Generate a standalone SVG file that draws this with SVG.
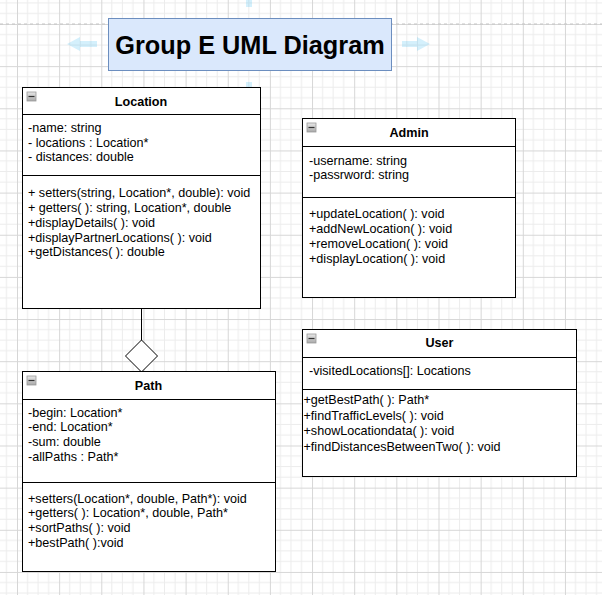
<svg xmlns="http://www.w3.org/2000/svg" width="602" height="595" viewBox="0 0 602 595">
<defs>
<pattern id="grid" patternUnits="userSpaceOnUse" x="17" y="24" width="42.15" height="42.15">
<path d="M10.54 0V42.15M21.08 0V42.15M31.61 0V42.15M0 10.54H42.15M0 21.08H42.15M0 31.61H42.15" stroke="#ececec" stroke-width="1" fill="none"/>
<path d="M0.5 0V42.15M0 0.5H42.15" stroke="#d6d6d6" stroke-width="1" fill="none"/>
</pattern>
<linearGradient id="icon" x1="0" y1="0" x2="0" y2="1">
<stop offset="0" stop-color="#e8e8e8"/>
<stop offset="1" stop-color="#a8a8a8"/>
</linearGradient>
<g id="minus">
<rect x="0" y="0" width="9" height="9" fill="url(#icon)" stroke="#9a9a9a" stroke-width="0.8"/>
<line x1="1.5" y1="4.5" x2="7.5" y2="4.5" stroke="#333" stroke-width="1.2"/>
</g>
</defs>
<style>
.box{fill:#ffffff;stroke:#000000;stroke-width:1}
.sep{stroke:#000000;stroke-width:1}
.t{font-family:"Liberation Sans",Arial,sans-serif;font-size:12.6px;fill:#000000}
.h{font-family:"Liberation Sans",Arial,sans-serif;font-size:12.6px;font-weight:bold;fill:#000000;text-anchor:middle}
.hint{fill:#29b6f2;opacity:0.2}
</style>
<rect x="0" y="0" width="602" height="595" fill="#ffffff"/>
<rect x="0" y="0" width="602" height="595" fill="url(#grid)"/>
<line x1="0" y1="24" x2="602" y2="24" stroke="#c4c4c4" stroke-width="1" stroke-dasharray="3 3"/>

<g id="hints">
<path class="hint" d="M67 44L80 37V41H97V47H80V51Z"/>
<path class="hint" d="M430 44L417 37V41H402V47H417V51Z"/>
<path class="hint" d="M249 109L242 96H246V82H252V96H256Z"/>
<rect class="hint" x="246" y="0" width="6" height="7"/>
</g>

<g id="title">
<rect x="108.5" y="18.5" width="283" height="52" fill="#dae8fc" stroke="#6c8ebf" stroke-width="1"/>
<text x="250" y="54" font-family="Liberation Sans,Arial,sans-serif" font-size="25.3" font-weight="bold" text-anchor="middle" fill="#000">Group E UML Diagram</text>
</g>

<g id="connectors">
<line x1="141.5" y1="308" x2="141.5" y2="340" stroke="#000" stroke-width="1"/>
<path d="M141.5 340L157.5 356L141.5 372L125.5 356Z" fill="#ffffff" stroke="#000" stroke-width="1"/>
</g>

<g id="Location">
<rect class="box" x="22.5" y="87.5" width="238" height="221"/>
<line class="sep" x1="22.5" y1="114.5" x2="260.5" y2="114.5"/>
<line class="sep" x1="22.5" y1="175.5" x2="260.5" y2="175.5"/>
<use href="#minus" x="27" y="92"/>
<text class="h" x="141" y="106">Location</text>
<text class="t" x="28" y="132">-name: string</text>
<text class="t" x="28" y="147">- locations : Location*</text>
<text class="t" x="28" y="161">- distances: double</text>
<text class="t" x="28" y="197">+ setters(string, Location*, double): void</text>
<text class="t" x="28" y="212">+ getters( ): string, Location*, double</text>
<text class="t" x="28" y="227">+displayDetails( ): void</text>
<text class="t" x="28" y="242">+displayPartnerLocations( ): void</text>
<text class="t" x="28" y="256">+getDistances( ): double</text>
</g>

<g id="Path">
<rect class="box" x="22.5" y="371.5" width="253" height="200"/>
<line class="sep" x1="22.5" y1="399.5" x2="275.5" y2="399.5"/>
<line class="sep" x1="22.5" y1="482.5" x2="275.5" y2="482.5"/>
<use href="#minus" x="27" y="376"/>
<text class="h" x="148.5" y="390">Path</text>
<text class="t" x="28" y="417">-begin: Location*</text>
<text class="t" x="28" y="431">-end: Location*</text>
<text class="t" x="28" y="446">-sum: double</text>
<text class="t" x="28" y="461">-allPaths : Path*</text>
<text class="t" x="28" y="503">+setters(Location*, double, Path*): void</text>
<text class="t" x="28" y="517">+getters( ): Location*, double, Path*</text>
<text class="t" x="28" y="532">+sortPaths( ): void</text>
<text class="t" x="28" y="547">+bestPath( ):void</text>
</g>

<g id="Admin">
<rect class="box" x="302.5" y="118.5" width="213" height="179"/>
<line class="sep" x1="302.5" y1="146.5" x2="515.5" y2="146.5"/>
<line class="sep" x1="302.5" y1="197.5" x2="515.5" y2="197.5"/>
<use href="#minus" x="307" y="123"/>
<text class="h" x="409" y="137">Admin</text>
<text class="t" x="309" y="165">-username: string</text>
<text class="t" x="309" y="179">-passrword: string</text>
<text class="t" x="309" y="218">+updateLocation( ): void</text>
<text class="t" x="309" y="233">+addNewLocation( ): void</text>
<text class="t" x="309" y="248">+removeLocation( ): void</text>
<text class="t" x="309" y="263">+displayLocation( ): void</text>
</g>

<g id="User">
<rect class="box" x="302.5" y="329.5" width="274" height="147"/>
<line class="sep" x1="302.5" y1="357.5" x2="576.5" y2="357.5"/>
<line class="sep" x1="302.5" y1="389.5" x2="576.5" y2="389.5"/>
<use href="#minus" x="307" y="334"/>
<text class="h" x="439.5" y="347">User</text>
<text class="t" x="309" y="375">-visitedLocations[]: Locations</text>
<text class="t" x="303.5" y="404">+getBestPath( ): Path*</text>
<text class="t" x="303.5" y="420">+findTrafficLevels( ): void</text>
<text class="t" x="303.5" y="435">+showLocationdata( ): void</text>
<text class="t" x="303.5" y="451">+findDistancesBetweenTwo( ): void</text>
</g>
</svg>
